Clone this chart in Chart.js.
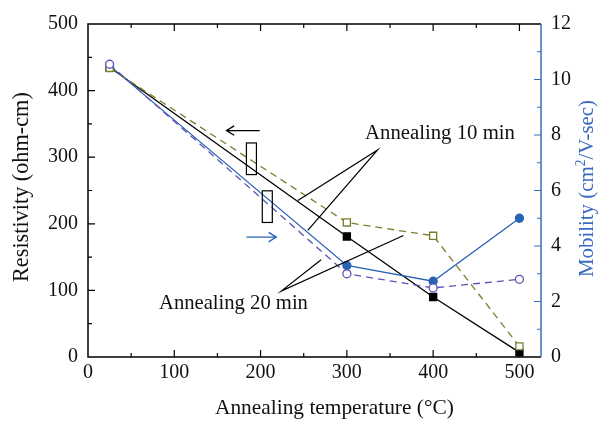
<!DOCTYPE html>
<html>
<head>
<meta charset="utf-8">
<script src="https://cdn.jsdelivr.net/npm/chart.js@4"></script>
<style>
  html, body { margin: 0; padding: 0; background: #fff; }
</style>
</head>
<body>
<canvas id="chart" width="600" height="421"></canvas>
<script>
// === Data ===
const temps = [25, 300, 400, 500];
const res10 = [435, 181, 90, 7];
const res20 = [434, 202, 182, 16];
const mob10 = [10.5, 3.3, 2.73, 5.0];
const mob20 = [10.55, 3.0, 2.49, 2.8];
const xTicks = [0, 100, 200, 300, 400, 500];
const resTicks = [0, 100, 200, 300, 400, 500];
const mobTicks = [0, 2, 4, 6, 8, 10, 12];

const SERIF = '"Liberation Serif", "DejaVu Serif", serif';
const OLIVE = '#7b7d2c';
const BLUE = '#2a62b6';
const PURPLE = '#5a52b4';
const AXBLUE = '#3a6bbf';

const pts = vals => temps.map((t, i) => ({ x: t, y: vals[i] }));

// font size that gives the wanted width
function sizeFor(ctx, text, width, base) {
  ctx.font = base + 'px ' + SERIF;
  return base * width / ctx.measureText(text).width;
}

function arrow(ctx, x1, y1, x2, y2, color) {
  const ang = Math.atan2(y2 - y1, x2 - x1);
  ctx.strokeStyle = color;
  ctx.lineWidth = 1.3;
  ctx.beginPath();
  ctx.moveTo(x1, y1); ctx.lineTo(x2, y2);
  ctx.moveTo(x2 - 9 * Math.cos(ang - 0.55), y2 - 9 * Math.sin(ang - 0.55));
  ctx.lineTo(x2, y2);
  ctx.lineTo(x2 - 9 * Math.cos(ang + 0.55), y2 - 9 * Math.sin(ang + 0.55));
  ctx.stroke();
}

const overlay = {
  id: 'overlay',
  afterDatasetsDraw(chart) {
    const { ctx, chartArea: a, scales: { x, y, y2 } } = chart;
    const px = v => x.getPixelForValue(v);
    const py = v => y.getPixelForValue(v);
    const pm = v => y2.getPixelForValue(v);
    ctx.save();

    // frame
    ctx.lineWidth = 1.5;
    ctx.strokeStyle = '#000';
    ctx.beginPath();
    ctx.moveTo(a.right, a.top); ctx.lineTo(a.left, a.top);
    ctx.lineTo(a.left, a.bottom); ctx.lineTo(a.right, a.bottom);
    ctx.stroke();
    ctx.strokeStyle = AXBLUE;
    ctx.beginPath();
    ctx.moveTo(a.right, a.top); ctx.lineTo(a.right, a.bottom);
    ctx.stroke();

    // inward ticks
    ctx.lineWidth = 1.2;
    ctx.strokeStyle = '#000';
    ctx.beginPath();
    for (let v = 50; v <= 500; v += 50) {
      const len = v % 100 === 0 ? 7 : 4;
      ctx.moveTo(px(v), a.bottom); ctx.lineTo(px(v), a.bottom - len);
      ctx.moveTo(px(v), a.top); ctx.lineTo(px(v), a.top + len);
    }
    for (let v = 50; v < 500; v += 50) {
      const len = v % 100 === 0 ? 7 : 4;
      ctx.moveTo(a.left, py(v)); ctx.lineTo(a.left + len, py(v));
    }
    ctx.stroke();
    ctx.strokeStyle = AXBLUE;
    ctx.beginPath();
    for (let v = 1; v < 12; v++) {
      const len = v % 2 === 0 ? 7 : 4;
      ctx.moveTo(a.right, pm(v)); ctx.lineTo(a.right - len, pm(v));
    }
    ctx.stroke();

    // bracket boxes and arrows
    ctx.strokeStyle = '#000';
    ctx.lineWidth = 1.2;
    ctx.strokeRect(px(183.6), py(321.4), px(195.2) - px(183.6), py(273.9) - py(321.4));
    ctx.strokeRect(px(202), py(249.5), px(213.6) - px(202), py(202) - py(249.5));
    arrow(ctx, px(199), py(340), px(160.5), py(340), '#000');
    arrow(ctx, px(183.6), py(180), px(218.2), py(180), BLUE);

    // pointer lines
    ctx.strokeStyle = '#000';
    ctx.lineWidth = 1.2;
    ctx.beginPath();
    ctx.moveTo(px(243.2), py(235)); ctx.lineTo(px(335.6), py(311)); ctx.lineTo(px(254.7), py(190));
    ctx.moveTo(px(365.6), py(182.4)); ctx.lineTo(px(224), py(99)); ctx.lineTo(px(270.2), py(146));
    ctx.stroke();

    // annotation texts
    ctx.fillStyle = '#111';
    ctx.textBaseline = 'alphabetic';
    ctx.textAlign = 'left';
    let t = 'Annealing 10 min';
    ctx.font = sizeFor(ctx, t, 150, 20) + 'px ' + SERIF;
    ctx.fillText(t, 365, 139);
    t = 'Annealing 20 min';
    ctx.font = sizeFor(ctx, t, 149, 20) + 'px ' + SERIF;
    ctx.fillText(t, 159, 309);

    // axis titles
    t = 'Annealing temperature (°C)';
    ctx.font = sizeFor(ctx, t, 239, 20) + 'px ' + SERIF;
    ctx.fillText(t, 215, 414);

    t = 'Resistivity (ohm-cm)';
    ctx.save();
    ctx.translate(28, 282);
    ctx.rotate(-Math.PI / 2);
    ctx.font = sizeFor(ctx, t, 190, 20) + 'px ' + SERIF;
    ctx.fillText(t, 0, 0);
    ctx.restore();

    // right title with superscript
    ctx.save();
    ctx.translate(593, 277);
    ctx.rotate(-Math.PI / 2);
    ctx.fillStyle = AXBLUE;
    const fs = 20;
    const main = fs + 'px ' + SERIF;
    const sup = Math.round(fs * 0.65) + 'px ' + SERIF;
    const parts = [['Mobility (cm', main, 0], ['2', sup, -8], ['/V-sec)', main, 0]];
    let total = 0;
    parts.forEach(p => { ctx.font = p[1]; total += ctx.measureText(p[0]).width; });
    const k = 177 / total;
    ctx.scale(k, k);
    let cx = 0;
    parts.forEach(p => {
      ctx.font = p[1];
      ctx.fillText(p[0], cx, p[2]);
      cx += ctx.measureText(p[0]).width;
    });
    ctx.restore();

    ctx.restore();
  }
};

const tickFont = { family: SERIF, size: 20 };

// first dataset is drawn on top
new Chart(document.getElementById('chart'), {
  type: 'line',
  data: {
    datasets: [
      {
        label: 'Mobility 20 min', data: pts(mob20), yAxisID: 'y2',
        borderColor: PURPLE, borderWidth: 1.3, borderDash: [7, 5], pointStyle: 'circle',
        pointRadius: 4, pointBackgroundColor: '#fff', pointBorderColor: PURPLE, pointBorderWidth: 1.3
      },
      {
        label: 'Resistivity 20 min', data: pts(res20), yAxisID: 'y',
        borderColor: OLIVE, borderWidth: 1.3, borderDash: [7, 5], pointStyle: 'rect',
        pointRadius: 5, pointBackgroundColor: '#fff', pointBorderColor: OLIVE, pointBorderWidth: 1.3
      },
      {
        label: 'Mobility 10 min', data: pts(mob10), yAxisID: 'y2',
        borderColor: BLUE, borderWidth: 1.3, pointStyle: 'circle',
        pointRadius: 4, pointBackgroundColor: BLUE, pointBorderColor: BLUE
      },
      {
        label: 'Resistivity 10 min', data: pts(res10), yAxisID: 'y',
        borderColor: '#000', borderWidth: 1.3, pointStyle: 'rect',
        pointRadius: 5, pointBackgroundColor: '#000', pointBorderColor: '#000'
      }
    ]
  },
  options: {
    responsive: false,
    animation: false,
    layout: { padding: { top: 24, left: 0, right: 0, bottom: 0 } },
    plugins: { legend: { display: false }, tooltip: { enabled: false } },
    scales: {
      x: {
        type: 'linear', min: 0, max: 525,
        grid: { display: false, drawTicks: false }, border: { display: false },
        afterBuildTicks: s => { s.ticks = xTicks.map(v => ({ value: v })); },
        afterFit: s => { s.height = 64; },
        ticks: { font: tickFont, color: '#111', padding: 4, maxRotation: 0 }
      },
      y: {
        position: 'left', min: 0, max: 500,
        grid: { display: false, drawTicks: false }, border: { display: false },
        afterBuildTicks: s => { s.ticks = resTicks.map(v => ({ value: v })); },
        afterFit: s => { s.width = 88; },
        ticks: { font: tickFont, color: '#111', padding: 10 }
      },
      y2: {
        position: 'right', min: 0, max: 12,
        grid: { display: false, drawTicks: false }, border: { display: false },
        afterBuildTicks: s => { s.ticks = mobTicks.map(v => ({ value: v })); },
        afterFit: s => { s.width = 59; },
        ticks: { font: tickFont, color: '#111', padding: 10 }
      }
    }
  },
  plugins: [overlay]
});
</script>
</body>
</html>
